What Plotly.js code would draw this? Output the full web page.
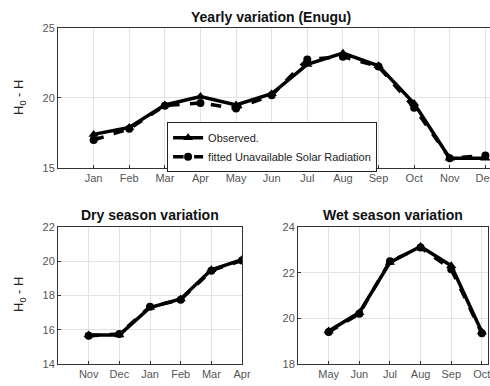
<!DOCTYPE html>
<html><head><meta charset="utf-8">
<script src="https://cdn.plot.ly/plotly-3.0.1.min.js"></script>
<style>body{margin:0;padding:0;background:#fff}#c{width:490px;height:386px}</style>
</head><body><div id="c"></div>
<script>
const months = ["Jan","Feb","Mar","Apr","May","Jun","Jul","Aug","Sep","Oct","Nov","Dec"];
const observed = [17.4, 17.9, 19.5, 20.1, 19.5, 20.3, 22.4, 23.2, 22.3, 19.6, 15.7, 15.7];
const fitted   = [17.0, 17.8, 19.45, 19.65, 19.25, 20.2, 22.75, 22.95, 22.25, 19.3, 15.7, 15.9];
const dryMonths = ["Nov","Dec","Jan","Feb","Mar","Apr"];
const dryObserved = [15.7, 15.7, 17.3, 17.8, 19.5, 20.1];
const dryFitted   = [15.65, 15.75, 17.35, 17.75, 19.45, 20.05];
const wetMonths = ["May","Jun","Jul","Aug","Sep","Oct"];
const wetObserved = [19.45, 20.25, 22.45, 23.15, 22.3, 19.4];
const wetFitted   = [19.4, 20.2, 22.5, 23.1, 22.15, 19.35];
const yTitle = "H<sub>0</sub> - H";

const lineObs = {color:"#000", width:3.5};
const lineFit = {color:"#000", width:3.5, dash:"dash"};
const mkObs = {symbol:"triangle-up", size:9, color:"#000"};
const mkFit = {symbol:"circle", size:8, color:"#000"};

const traces = [
  {x:months, y:observed, name:"Observed.", mode:"lines+markers", line:lineObs, marker:mkObs, xaxis:"x", yaxis:"y"},
  {x:months, y:fitted, name:"fitted Unavailable Solar Radiation", mode:"lines+markers", line:lineFit, marker:mkFit, xaxis:"x", yaxis:"y"},
  {x:dryMonths, y:dryObserved, mode:"lines+markers", line:lineObs, marker:mkObs, xaxis:"x2", yaxis:"y2", showlegend:false},
  {x:dryMonths, y:dryFitted, mode:"lines+markers", line:lineFit, marker:mkFit, xaxis:"x2", yaxis:"y2", showlegend:false},
  {x:wetMonths, y:wetObserved, mode:"lines+markers", line:lineObs, marker:mkObs, xaxis:"x3", yaxis:"y3", showlegend:false},
  {x:wetMonths, y:wetFitted, mode:"lines+markers", line:lineFit, marker:mkFit, xaxis:"x3", yaxis:"y3", showlegend:false}
];

const FF = "Liberation Sans, Arial, sans-serif";
const tickFont = {family:FF, size:11, color:"#555"};
function xax(domain, anchor, range){
  return {domain:domain, anchor:anchor, type:"category", range:range, showline:true, linecolor:"#333", linewidth:1, mirror:true,
    ticks:"inside", ticklen:3, tickcolor:"#333", showgrid:true, gridcolor:"#e3e3e3", tickfont:tickFont, zeroline:false, fixedrange:true};
}
function yax(domain, anchor, range, dtick){
  return {domain:domain, anchor:anchor, range:range, dtick:dtick, showline:true, linecolor:"#333", linewidth:1, mirror:true,
    ticks:"inside", ticklen:3, tickcolor:"#333", showgrid:true, gridcolor:"#e3e3e3", tickfont:tickFont, zeroline:false, fixedrange:true};
}

const titleFont = {family:FF, size:14, color:"#111", weight:"bold"};
const yTitleFont = {family:FF, size:13, color:"#222"};
const layout = {
  width:490, height:386, margin:{l:0,r:0,t:0,b:0}, paper_bgcolor:"#fff", plot_bgcolor:"#fff",
  showlegend:true,
  legend:{x:0.341, y:0.683, xanchor:"left", yanchor:"top", bordercolor:"#222", borderwidth:1, bgcolor:"#fff",
    font:{family:FF, size:11, color:"#222"}, tracegroupgap:0, itemwidth:30},
  xaxis: xax([0.1184, 1.0], "y", [-1, 11.13]),
  yaxis: yax([0.5648, 0.9275], "x", [15, 25], 5),
  xaxis2: xax([0.1184, 0.4939], "y2", [-1, 5]),
  yaxis2: yax([0.057, 0.4119], "x2", [14, 22], 2),
  xaxis3: xax([0.6082, 0.9959], "y3", [-1, 5.2]),
  yaxis3: yax([0.057, 0.4119], "x3", [18, 24], 2),
  annotations:[
    {text:"<b>Yearly variation (Enugu)</b>", x:0.553, y:1-17/386, xref:"paper", yref:"paper", showarrow:false, font:titleFont, xanchor:"center", yanchor:"middle"},
    {text:"<b>Dry season variation</b>", x:0.306, y:1-215/386, xref:"paper", yref:"paper", showarrow:false, font:titleFont, xanchor:"center", yanchor:"middle"},
    {text:"<b>Wet season variation</b>", x:0.802, y:1-215/386, xref:"paper", yref:"paper", showarrow:false, font:titleFont, xanchor:"center", yanchor:"middle"},
    {text:yTitle, textangle:-90, x:19/490, y:1-98/386, xref:"paper", yref:"paper", showarrow:false, font:yTitleFont, xanchor:"center", yanchor:"middle"},
    {text:yTitle, textangle:-90, x:19/490, y:1-295/386, xref:"paper", yref:"paper", showarrow:false, font:yTitleFont, xanchor:"center", yanchor:"middle"}
  ]
};
Plotly.newPlot("c", traces, layout, {staticPlot:true, displayModeBar:false});
</script>
</body></html>
